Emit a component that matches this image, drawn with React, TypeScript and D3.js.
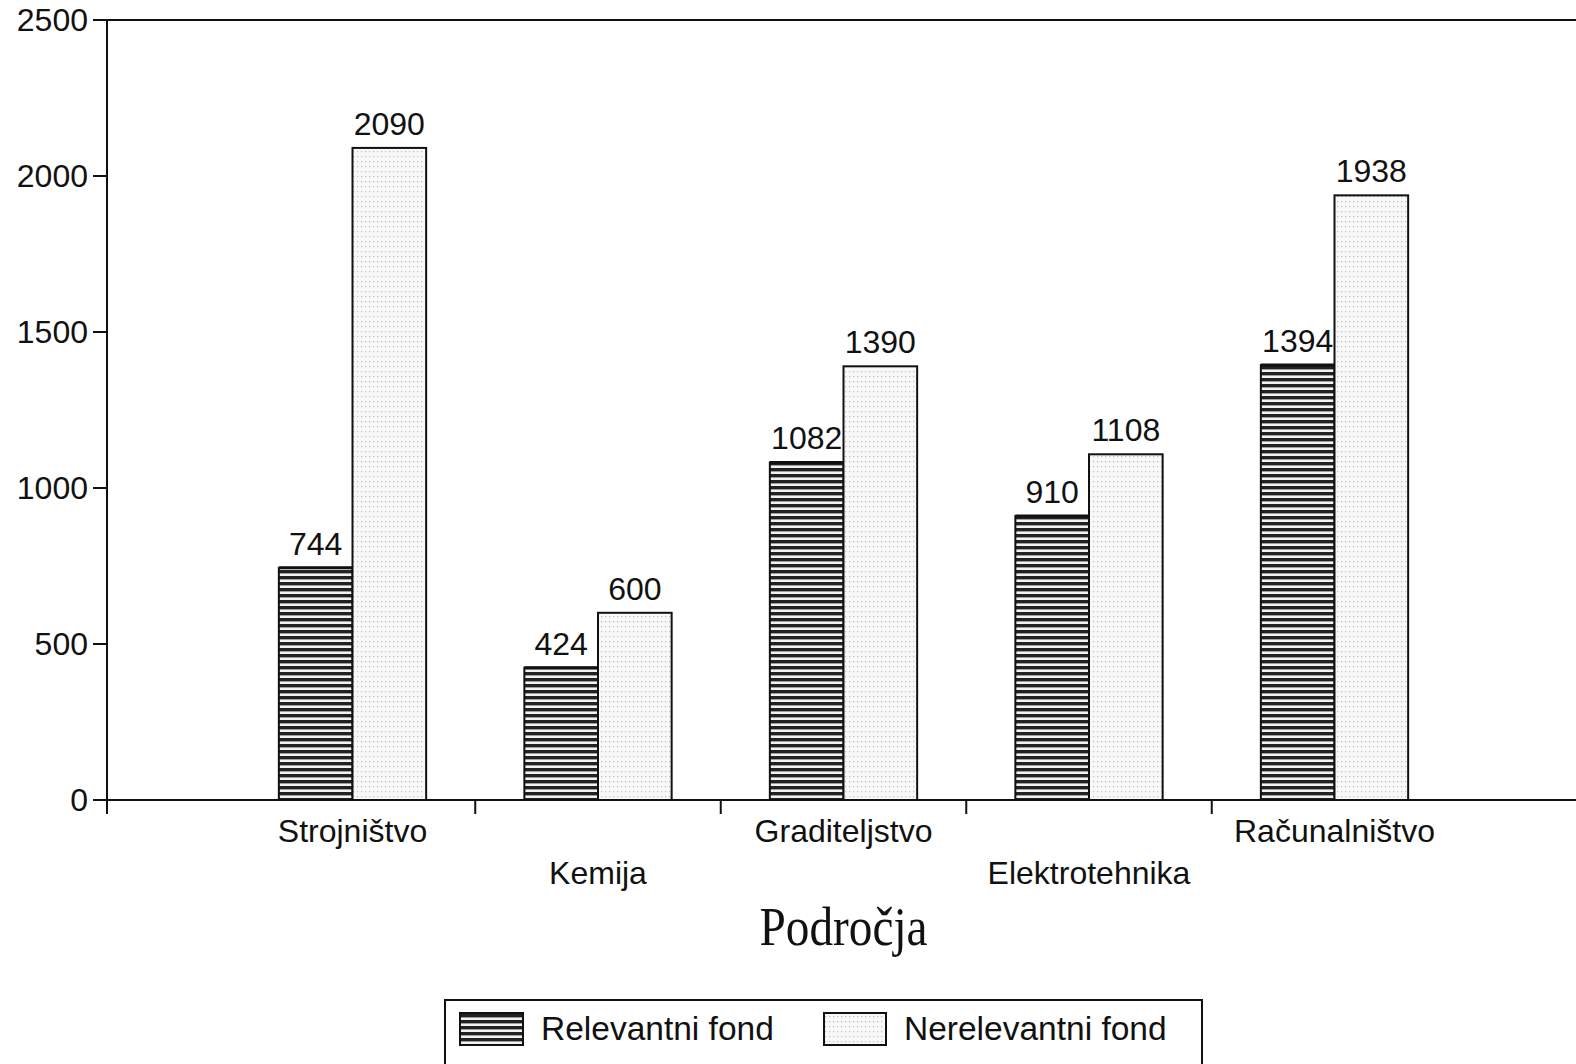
import React from "react";
import * as d3 from "d3";

const categories = ["Strojništvo", "Kemija", "Graditeljstvo", "Elektrotehnika", "Računalništvo"];
const relevantni = [744, 424, 1082, 910, 1394];
const nerelevantni = [2090, 600, 1390, 1108, 1938];
const yTicks = [0, 500, 1000, 1500, 2000, 2500];
const seriesNames = ["Relevantni fond", "Nerelevantni fond"];
const axisTitle = "Področja";

const W = 1576;
const H = 1064;
const FONT = "'Liberation Sans', Arial, Helvetica, sans-serif";

export default function App() {
  const x = d3.scaleLinear().domain([0, 6]).range([107, 1580]);
  const y = d3.scaleLinear().domain([0, 2500]).range([800, 20]);
  const bw = 0.3;
  const boundaries = d3.range(1.5, 5, 1);

  return (
    <svg
      width={W}
      height={H}
      style={{ position: "absolute", left: 0, top: 0, background: "#fff" }}
      fontFamily={FONT}
    >
      <defs>
        <pattern id="hatch" width="8" height="6" patternUnits="userSpaceOnUse">
          <rect width="8" height="6" fill="#f2f2f2" />
          <rect y="0" width="8" height="3.4" fill="#222" />
        </pattern>
        <pattern id="dots" width="4" height="5" patternUnits="userSpaceOnUse">
          <rect width="4" height="5" fill="#f8f8f8" />
          <rect x="1" y="1" width="1.2" height="1.2" fill="#bdbdbd" />
        </pattern>
      </defs>
      <rect width={W} height={H} fill="#fff" />

      {/* frame */}
      <line x1={x(0)} x2={W} y1={y(2500)} y2={y(2500)} stroke="#111" strokeWidth={2} />
      <line x1={x(0)} x2={W} y1={y(0)} y2={y(0)} stroke="#111" strokeWidth={2} />
      <line x1={x(0)} x2={x(0)} y1={y(2500)} y2={y(0) + 14} stroke="#111" strokeWidth={2} />

      {/* y ticks */}
      {yTicks.map((t) => (
        <g key={t}>
          <line x1={x(0) - 14} x2={x(0)} y1={y(t)} y2={y(t)} stroke="#111" strokeWidth={2} />
          <text x={x(0) - 19} y={y(t) + 11} fontSize={32} textAnchor="end" fill="#111">
            {t}
          </text>
        </g>
      ))}

      {/* x boundary ticks */}
      {boundaries.map((b) => (
        <line key={b} x1={x(b)} x2={x(b)} y1={y(0)} y2={y(0) + 14} stroke="#111" strokeWidth={2} />
      ))}

      {/* bars */}
      {categories.map((c, i) => {
        const cx = i + 1;
        const r = relevantni[i];
        const n = nerelevantni[i];
        return (
          <g key={c}>
            <rect
              x={x(cx - bw)}
              y={y(r)}
              width={x(cx) - x(cx - bw)}
              height={y(0) - y(r)}
              fill="url(#hatch)"
              stroke="#111"
              strokeWidth={2}
            />
            <line x1={x(cx - bw)} x2={x(cx)} y1={y(r)} y2={y(r)} stroke="#111" strokeWidth={3} />
            <rect
              x={x(cx)}
              y={y(n)}
              width={x(cx + bw) - x(cx)}
              height={y(0) - y(n)}
              fill="url(#dots)"
              stroke="#111"
              strokeWidth={2}
            />
            <text x={x(cx - bw / 2)} y={y(r) - 13} fontSize={32} textAnchor="middle" fill="#111">
              {r}
            </text>
            <text x={x(cx + bw / 2)} y={y(n) - 13} fontSize={32} textAnchor="middle" fill="#111">
              {n}
            </text>
            <text
              x={x(cx)}
              y={i % 2 === 0 ? 842 : 884}
              fontSize={32}
              textAnchor="middle"
              fill="#111"
            >
              {c}
            </text>
          </g>
        );
      })}

      {/* axis title */}
      <text
        x={x(3)}
        y={945}
        fontSize={54}
        textAnchor="middle"
        fontFamily="'Liberation Serif', 'Times New Roman', serif"
        textLength={168}
        lengthAdjust="spacingAndGlyphs"
        fill="#111"
      >
        {axisTitle}
      </text>

      {/* legend */}
      <rect x={445} y={1000} width={757} height={80} fill="#fff" stroke="#111" strokeWidth={2} />
      <rect x={460} y={1013} width={63} height={32} fill="url(#hatch)" stroke="#111" strokeWidth={2} />
      <text x={541} y={1040} fontSize={33.5} fill="#111">
        {seriesNames[0]}
      </text>
      <rect x={824} y={1013} width={62} height={32} fill="url(#dots)" stroke="#111" strokeWidth={2} />
      <text x={904} y={1040} fontSize={33.5} fill="#111">
        {seriesNames[1]}
      </text>
    </svg>
  );
}
